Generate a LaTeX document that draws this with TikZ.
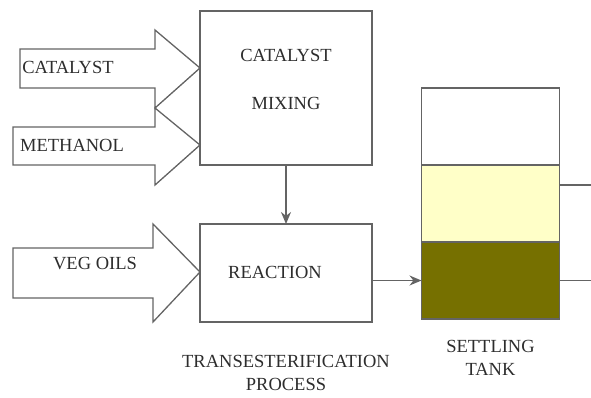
\documentclass[tikz,border=0pt]{standalone}
\usepackage{fontspec}
\setmainfont{Liberation Serif}
\usepackage{tikz}
\usetikzlibrary{arrows.meta,positioning,calc}
\definecolor{grisLinea}{RGB}{100,100,100}
\definecolor{grisTexto}{RGB}{45,45,45}
\definecolor{amarilloClaro}{RGB}{255,255,200}
\definecolor{oliva}{RGB}{118,112,0}
\tikzstyle{caja}  =[rectangle, draw=grisLinea, line width=1.3pt,
                    inner sep=0pt, outer sep=0pt]
\tikzstyle{flecha}=[draw=grisLinea, line width=1.3pt, line join=miter]
\tikzstyle{edge}  =[draw=grisLinea, line width=1.3pt,
                    >={Stealth[length=12pt,width=10pt]}]
\tikzstyle{rotulo}=[text=grisTexto, inner sep=0pt,
                    font=\rmfamily\fontsize{18.5}{23}\selectfont]

\begin{document}
\begin{tikzpicture}[x=1pt,y=-1pt]
    \useasboundingbox (0,0) rectangle (591,397);

            % cajas del proceso
            \node[caja, minimum width=172pt, minimum height=154pt] (mix) at (286,88) {};
            \node[rotulo] (mixA) at (286,55) {CATALYST};
            \node[rotulo] (mixB) at (286,103) {MIXING};

            \node[caja, minimum width=172pt, minimum height=98pt] (reac) at (286,273) {};
            \node[rotulo] (reacL) at (275,272) {REACTION};

            \node[rotulo, align=center] (trans) at (286,373)
                {TRANSESTERIFICATION\\PROCESS};

            % tanque
            \node[caja, minimum width=138pt, minimum height=77pt] (tankTop) at (490.5,126.5) {};
            \node[caja, fill=amarilloClaro, minimum width=138pt, minimum height=77pt,
                  below=0pt of tankTop] (tankMid) {};
            \node[caja, fill=oliva, minimum width=138pt, minimum height=77pt,
                  below=0pt of tankMid] (tankBot) {};
            \node[rotulo, align=center, below=21pt of tankBot] (tankL) {SETTLING\\TANK};

            % flechas grandes
            \draw[flecha] (20,49) -- (155,49) -- (155,30) -- (200,68)
                -- (155,108) -- (155,88) -- (20,88) -- cycle;
            \draw[flecha] (13,127) -- (155,127) -- (155,108) -- (200,145)
                -- (155,185) -- (155,165) -- (13,165) -- cycle;
            \draw[flecha] (13,248) -- (153,248) -- (153,224) -- (200,272)
                -- (153,322) -- (153,298) -- (13,298) -- cycle;
            \node[rotulo] (cat) at (68,67) {CATALYST};
            \node[rotulo] (met) at (72,145) {METHANOL};
            \node[rotulo] (veg) at (95,264) {VEG OILS};

            % conexiones
            \draw[edge,->] (mix.south) -- (reac.north);
            \draw[edge,->] (reac.east |- tankBot.west) -- (tankBot.west);

            \coordinate (sal1) at (591,185);
            \coordinate (sal2) at (591,282);
            \draw[edge] (sal1 -| tankMid.east) -- (sal1);
            \draw[edge] (tankBot.east) -- (tankBot.east -| sal2);

\end{tikzpicture}
\end{document}
